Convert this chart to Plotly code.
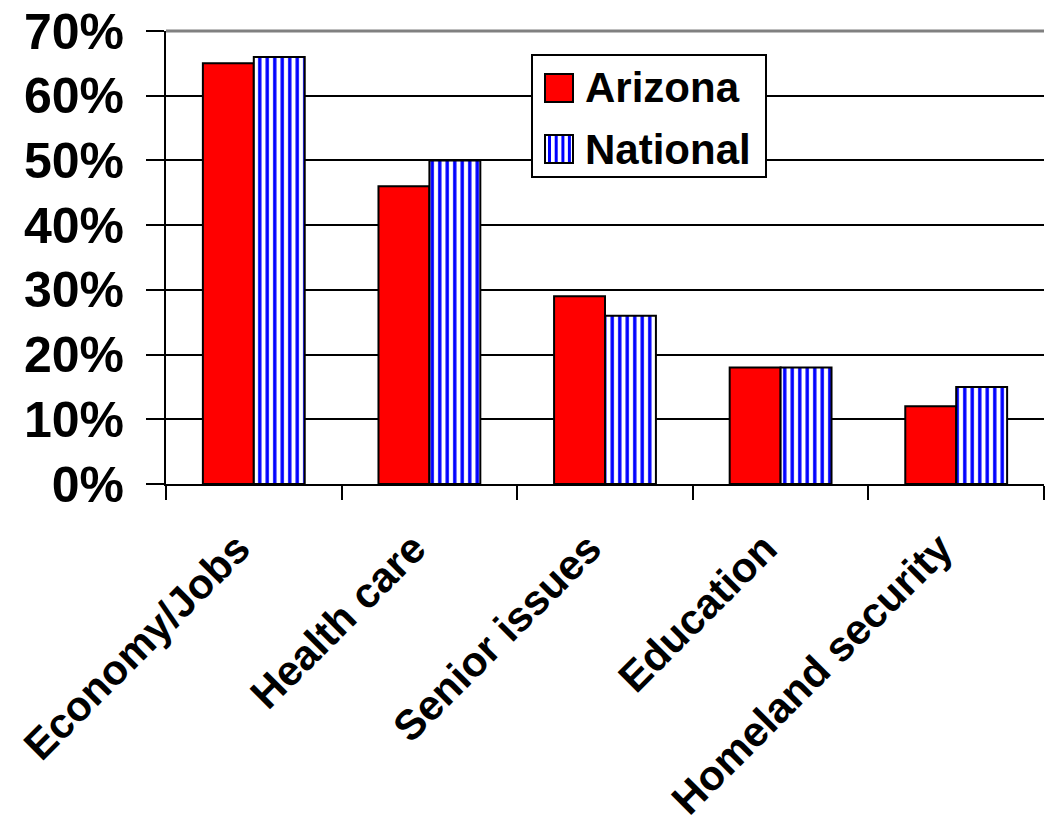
import plotly.graph_objects as go

categories = ["Economy/Jobs", "Health care", "Senior issues", "Education", "Homeland security"]
arizona = [65, 46, 29, 18, 12]
national = [66, 50, 26, 18, 15]
tick_vals = [0, 10, 20, 30, 40, 50, 60, 70]
tick_text = ["0%", "10%", "20%", "30%", "40%", "50%", "60%", "70%"]
series_names = ["Arizona", "National"]

FONT = "Arial, Liberation Sans, sans-serif"
W, H = 1052, 825
# plot rectangle in page pixels
PL, PR, PT, PB = 166, 1044, 31, 484
ML, MT, MR, MB = PL, PT, W - PR, H - PB
PW, PH = PR - PL, PB - PT


def px(x):
    return (x - PL) / PW


def py(y):
    return (PB - y) / PH


fig = go.Figure()
fig.add_trace(go.Bar(
    x=categories, y=arizona, name=series_names[0],
    marker=dict(color="#ff0000", line=dict(color="black", width=2)),
))
fig.add_trace(go.Bar(
    x=categories, y=national, name=series_names[1],
    marker=dict(color="white", line=dict(color="black", width=2),
                pattern=dict(shape="|", fgcolor="#0000ff", bgcolor="white",
                             size=7.5, solidity=0.45, fillmode="replace")),
))

# custom legend (box, swatches, labels)
shapes = [
    dict(type="line", xref="paper", yref="paper", x0=0, x1=1, y0=1, y1=1,
         line=dict(color="#808080", width=3)),
    dict(type="rect", xref="paper", yref="paper", x0=px(532), x1=px(766), y0=py(177), y1=py(55),
         line=dict(color="black", width=2), fillcolor="white", layer="above"),
    dict(type="rect", xref="paper", yref="paper", x0=px(545), x1=px(573), y0=py(102), y1=py(74),
         line=dict(color="black", width=2), fillcolor="#ff0000", layer="above"),
    dict(type="rect", xref="paper", yref="paper", x0=px(545), x1=px(573), y0=py(163), y1=py(135),
         line=dict(color="black", width=2), fillcolor="white", layer="above"),
]
for sx in [549.5, 556.2, 562.9, 569.4]:
    shapes.append(dict(type="line", xref="paper", yref="paper", x0=px(sx), x1=px(sx),
                       y0=py(162), y1=py(136), line=dict(color="#0000ff", width=3), layer="above"))
shapes.append(dict(type="rect", xref="paper", yref="paper", x0=px(545), x1=px(573), y0=py(163), y1=py(135),
                   line=dict(color="black", width=2), fillcolor="rgba(0,0,0,0)", layer="above"))

annotations = [
    dict(text=series_names[0], xref="paper", yref="paper", x=px(583), y=py(88),
         xanchor="left", yanchor="middle", showarrow=False,
         font=dict(size=42, family=FONT, weight="bold", color="black")),
    dict(text=series_names[1], xref="paper", yref="paper", x=px(583), y=py(149),
         xanchor="left", yanchor="middle", showarrow=False,
         font=dict(size=42, family=FONT, weight="bold", color="black")),
]

fig.update_layout(
    width=W, height=H,
    margin=dict(l=ML, r=MR, t=MT, b=MB, autoexpand=False),
    paper_bgcolor="white", plot_bgcolor="white",
    barmode="group", bargap=0.42, bargroupgap=0,
    font=dict(family=FONT, color="black", weight="bold"),
    showlegend=False,
    hovermode=False,
    shapes=shapes,
    annotations=annotations,
    xaxis=dict(
        type="category", tickson="boundaries",
        ticks="outside", ticklen=14, tickwidth=2, tickcolor="black",
        showline=True, linecolor="black", linewidth=2,
        tickangle=-45, tickfont=dict(size=42, family=FONT, weight="bold"),
        ticklabelstandoff=21, ticklabelshift=-16,
        showgrid=False,
    ),
    yaxis=dict(
        range=[0, 70.001], tickvals=tick_vals, ticktext=tick_text,
        ticks="outside", ticklen=18, tickwidth=2, tickcolor="black",
        showline=True, linecolor="black", linewidth=2,
        showgrid=True, gridcolor="black", gridwidth=2,
        tickfont=dict(size=50, family=FONT, weight="bold"),
        ticklabelstandoff=12, ticklabeloverflow="allow",
        zeroline=False,
    ),
)

fig.write_html("out.html", config={"displayModeBar": False},
               post_script="document.body.style.margin='0';document.body.style.overflow='hidden';")
